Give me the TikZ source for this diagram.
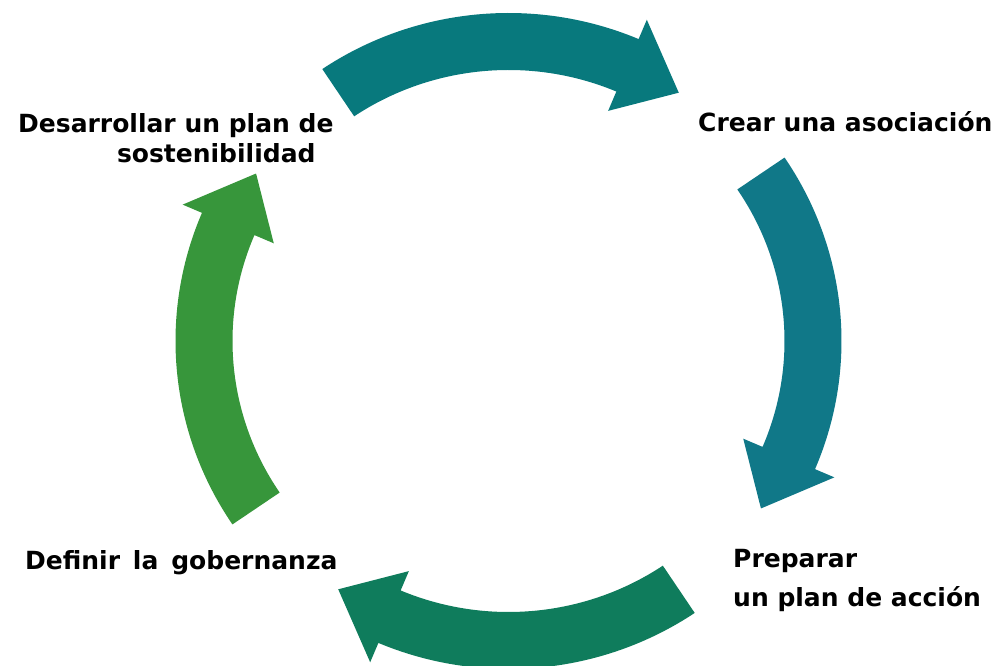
\documentclass[tikz,border=0pt]{standalone}
\usepackage{fontspec}
\setmainfont{DejaVu Sans}
\definecolor{tealtop}{HTML}{08797D}
\definecolor{tealright}{HTML}{107888}
\definecolor{greenbottom}{HTML}{0F7C5C}
\definecolor{greenleft}{HTML}{37963B}
\tikzset{
	steptext/.style={
		font=\bfseries\fontsize{25}{30}\selectfont,
		inner sep=0pt,
		anchor=base west},
	ringA/.style={fill=tealtop},
	ringB/.style={fill=tealright},
	ringC/.style={fill=greenbottom},
	ringD/.style={fill=greenleft},
}
% curved block arrow on the ring, #1 style, #2 middle angle (clockwise)
\newcommand{\ringarrow}[2]{%
	\fill[#1] (#2+34:333pt and 328pt)
		arc[start angle=#2+34, end angle=#2-23, x radius=333pt, y radius=328pt]
		-- (#2-23:354pt and 349pt)
		-- (#2-34:304.5pt and 299.5pt)
		-- (#2-23:255pt and 250pt)
		-- (#2-23:276pt and 271pt)
		arc[start angle=#2-23, end angle=#2+34, x radius=276pt, y radius=271pt]
		-- cycle;}
\begin{document}
\begin{tikzpicture}[x=1pt,y=1pt]
	\useasboundingbox (0,0) rectangle (994,666);
	\begin{scope}[shift={(508.5,325)}]
		\ringarrow{ringA}{90}
		\ringarrow{ringB}{0}
		\ringarrow{ringC}{-90}
		\ringarrow{ringD}{180}
	\end{scope}
	% multi-line nodes sit on the baseline of their last line
	\node[steptext, align=right] (plan) at (18,503) {Desarrollar un plan de\\sostenibilidad\hspace*{18pt}};
	\node[steptext] (asoc) at (698,534) {Crear una asociación};
	\node[steptext, align=left, font=\bfseries\fontsize{25}{39}\selectfont] (accion) at (733,59) {Preparar\\un plan de acción};
	\node[steptext] (gober) at (25,96) {Definir\ \,la\ \,gobernanza};
\end{tikzpicture}
\end{document}
